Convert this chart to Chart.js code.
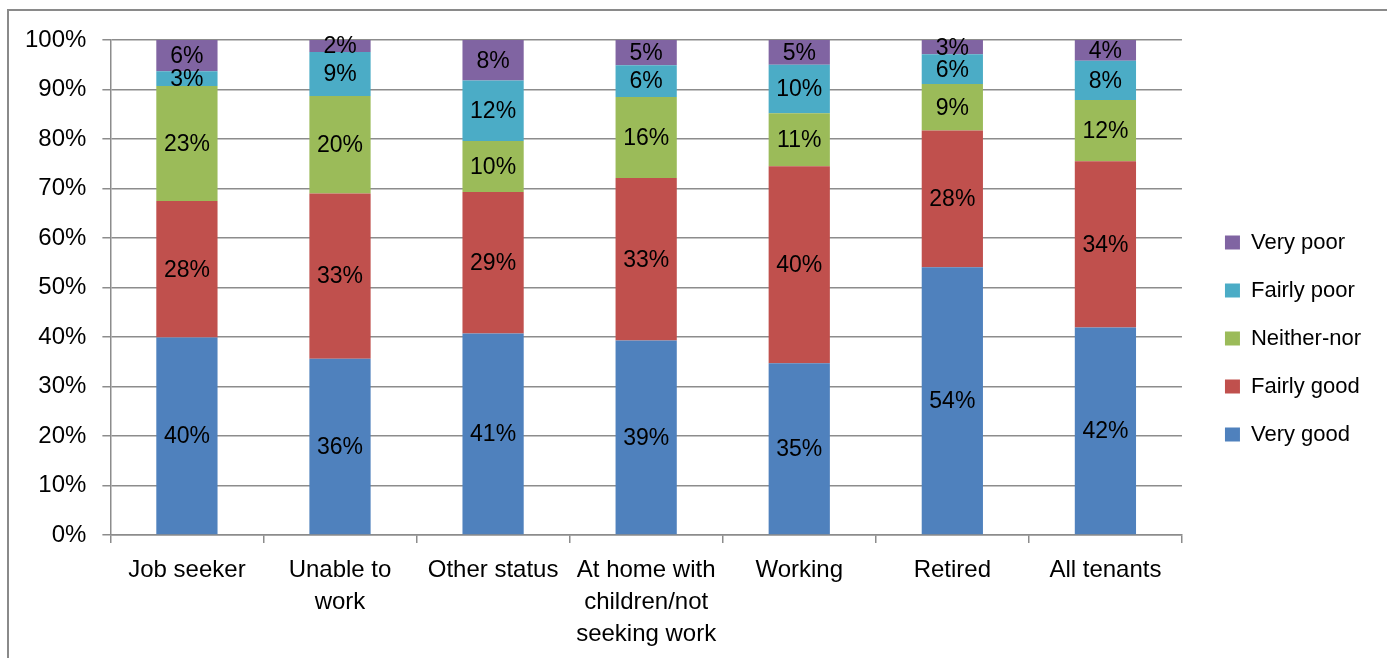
<!DOCTYPE html>
<html>
<head>
<meta charset="utf-8">
<script src="https://cdn.jsdelivr.net/npm/chart.js@4/dist/chart.umd.min.js"></script>
<style>
  html, body { margin: 0; padding: 0; background: #fff; }
  #wrap { position: relative; width: 1387px; height: 658px; }
  #frame { position: absolute; left: 7px; top: 9px; right: -5px; bottom: -5px;
           border-left: 2px solid #8a8a8a; border-top: 2px solid #8a8a8a; }
  canvas { position: absolute; left: 0; top: 0; }
</style>
</head>
<body>
<div id="wrap">
  <div id="frame"></div>
  <canvas id="ratingChart" width="1387" height="658"></canvas>
</div>
<script>
// tenant groups
var groups = ['Job seeker', ['Unable to', 'work'], 'Other status',
  ['At home with', 'children/not', 'seeking work'], 'Working', 'Retired', 'All tenants'];

// shares (%)
var veryGood   = [39.9, 35.6, 40.7, 39.3, 34.7, 54.1, 41.9];
var fairlyGood = [27.6, 33.4, 28.6, 32.8, 39.8, 27.6, 33.6];
var neitherNor = [23.2, 19.7, 10.3, 16.4, 10.7,  9.4, 12.4];
var fairlyPoor = [ 3.0,  8.9, 12.2,  6.4,  9.8,  6.0,  7.9];
var veryPoor   = [ 6.3,  2.4,  8.2,  5.1,  5.0,  2.9,  4.2];

var yTicks = [0, 10, 20, 30, 40, 50, 60, 70, 80, 90, 100];

var FONT = 'Liberation Sans, Arial, sans-serif';
var gridGrey = '#8c8c8c';

// labels in the middle of every segment
var segLabels = {
  id: 'segLabels',
  afterDatasetsDraw: function (chart) {
    var ctx = chart.ctx;
    ctx.save();
    ctx.font = '23px ' + FONT;
    ctx.fillStyle = '#000';
    ctx.textAlign = 'center';
    ctx.textBaseline = 'middle';
    chart.data.datasets.forEach(function (ds, i) {
      var meta = chart.getDatasetMeta(i);
      meta.data.forEach(function (bar, j) {
        var mid = (bar.y + bar.base) / 2;
        ctx.fillText(Math.round(ds.data[j]) + '%', bar.x, mid + 1);
      });
    });
    ctx.restore();
  }
};

// legend sits a bit further right and higher than chart.js puts it
var nudgeLegend = {
  id: 'nudgeLegend',
  afterLayout: function (chart) {
    var lg = chart.legend;
    lg.left += 17; lg.right += 17;
    lg.top -= 12; lg.bottom -= 12;
  }
};

new Chart('ratingChart', {
  type: 'bar',
  data: {
    labels: groups,
    datasets: [
      { label: 'Very good',   data: veryGood,   backgroundColor: '#4f81bd' },
      { label: 'Fairly good', data: fairlyGood, backgroundColor: '#c0504d' },
      { label: 'Neither-nor', data: neitherNor, backgroundColor: '#9bbb59' },
      { label: 'Fairly poor', data: fairlyPoor, backgroundColor: '#4bacc6' },
      { label: 'Very poor',   data: veryPoor,   backgroundColor: '#8064a2' }
    ]
  },
  options: {
    responsive: false,
    animation: false,
    events: [],
    categoryPercentage: 1,
    barPercentage: 0.4,
    layout: { padding: { top: 40, bottom: -3, left: 9, right: 33 } },
    scales: {
      x: {
        stacked: true,
        grid: { offset: true, drawOnChartArea: false, drawTicks: true, tickLength: 8,
                color: gridGrey, lineWidth: 1.5 },
        border: { color: gridGrey, width: 1.5 },
        ticks: { color: '#000', font: { family: FONT, size: 24, lineHeight: 1.333 },
                 padding: 11, maxRotation: 0, autoSkip: false }
      },
      y: {
        stacked: true,
        min: 0, max: 100,
        afterBuildTicks: function (axis) {
          axis.ticks = yTicks.map(function (v) { return { value: v }; });
        },
        grid: { color: gridGrey, lineWidth: 1.5, tickLength: 8 },
        border: { color: gridGrey, width: 1.5 },
        ticks: { color: '#000', font: { family: FONT, size: 24 }, padding: 16,
                 callback: function (v) { return v + '%'; } }
      }
    },
    plugins: {
      legend: {
        position: 'right',
        reverse: true,
        labels: { color: '#000', font: { family: FONT, size: 22 },
                  boxWidth: 15, boxHeight: 14, padding: 26 }
      },
      tooltip: { enabled: false }
    }
  },
  plugins: [segLabels, nudgeLegend]
});
</script>
</body>
</html>
